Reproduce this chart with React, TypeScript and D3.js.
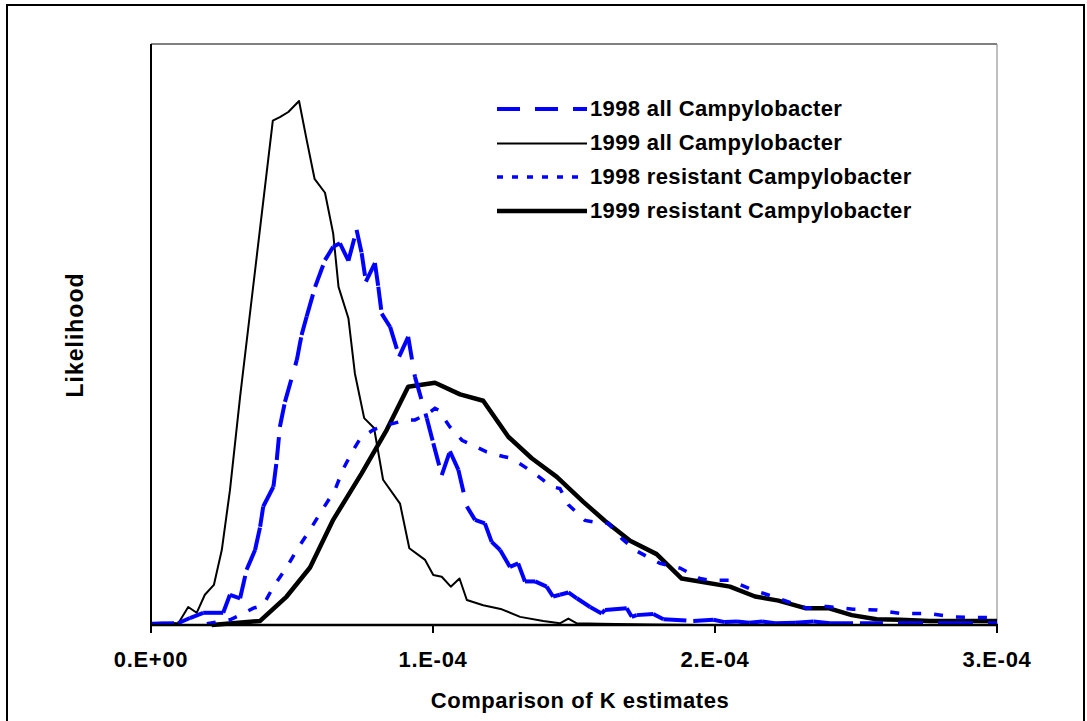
import React from "react";
import * as d3 from "d3";

// K estimates are stored in units of 1e-6; likelihood in relative units (axis max = 1)
const xTickValues = [0, 100, 200, 300];
const xTickLabels = ["0.E+00", "1.E-04", "2.E-04", "3.E-04"];
const xTitle = "Comparison of K estimates";
const yTitle = "Likelihood";
const seriesNames = [
  "1998 all Campylobacter",
  "1999 all Campylobacter",
  "1998 resistant Campylobacter",
  "1999 resistant Campylobacter",
];

const k1998All = [0, 9.6, 13.8, 18.5, 25.6, 28.0, 31.6, 33.9, 36.9, 38.7, 39.8, 43.4, 44.6, 45.7, 47.5, 51.7, 53.4, 55.2, 58.2, 61.7, 64.6, 67.0, 70.0, 72.9, 74.7, 76.2, 79.4, 80.6, 81.8, 84.8, 88.0, 91.2, 93.6, 97.8, 100.1, 103.1, 106.0, 109.0, 112.0, 114.9, 118.4, 120.8, 123.8, 127.3, 130.2, 132.6, 136.2, 140.3, 142.6, 145.0, 148.0, 151.0, 155.7, 159.8, 161.0, 168.7, 170.5, 172.2, 178.1, 181.7, 192.3, 199.4, 203.5, 207.8, 212.1, 216.7, 221.3, 228.4, 234.9, 240.8, 251.4, 265.6, 283.3, 300];
const lik1998All = [0.002, 0.003, 0.012, 0.021, 0.021, 0.052, 0.046, 0.095, 0.129, 0.169, 0.204, 0.238, 0.284, 0.341, 0.384, 0.456, 0.499, 0.531, 0.582, 0.628, 0.651, 0.657, 0.627, 0.68, 0.64, 0.591, 0.623, 0.582, 0.536, 0.513, 0.462, 0.496, 0.427, 0.356, 0.313, 0.258, 0.299, 0.267, 0.204, 0.181, 0.175, 0.143, 0.129, 0.1, 0.106, 0.075, 0.075, 0.066, 0.049, 0.052, 0.056, 0.046, 0.031, 0.02, 0.026, 0.029, 0.014, 0.017, 0.019, 0.01, 0.007, 0.009, 0.005, 0.006, 0.004, 0.006, 0.003, 0.004, 0.006, 0.003, 0.003, 0.003, 0.003, 0.003];

const k1999All = [0.1, 3.9, 9.7, 13.2, 16.2, 19.1, 22.3, 25.1, 28.0, 31.6, 43.2, 45.7, 48.7, 52.5, 55.2, 58.0, 61.7, 64.6, 66.5, 70.0, 72.3, 75.6, 79.1, 82.3, 88.3, 91.6, 97.2, 100.1, 103.1, 106.3, 109.4, 112.0, 117.8, 124.4, 130.9, 139.1, 145.0, 148.0, 151.0, 159.2, 177.0, 194.7, 300];
const lik1999All = [0.003, 0.004, 0.003, 0.031, 0.021, 0.052, 0.069, 0.129, 0.232, 0.393, 0.868, 0.874, 0.883, 0.902, 0.835, 0.768, 0.744, 0.674, 0.582, 0.528, 0.433, 0.356, 0.339, 0.25, 0.209, 0.132, 0.112, 0.086, 0.083, 0.066, 0.08, 0.043, 0.034, 0.027, 0.014, 0.007, 0.003, 0.011, 0.003, 0.002, 0.001, 0.0, 0.0];

const k1998Res = [19.8, 28.0, 31.6, 36.3, 39.8, 43.4, 48.1, 51.7, 56.4, 61.1, 65.2, 68.2, 71.7, 74.1, 78.8, 83.6, 90.7, 93.6, 98.3, 100.7, 101.9, 106.0, 110.3, 115.6, 119.0, 124.9, 127.9, 133.2, 136.8, 142.1, 145.0, 148.0, 153.9, 159.8, 162.2, 166.9, 171.6, 178.1, 180.5, 187.6, 194.7, 198.2, 205.3, 213.0, 222.4, 232.5, 239.6, 249.0, 257.3, 265.6, 275.1, 284.5, 292.8, 300];
const lik1998Res = [0.002, 0.009, 0.017, 0.029, 0.034, 0.066, 0.099, 0.129, 0.164, 0.201, 0.232, 0.269, 0.301, 0.32, 0.336, 0.344, 0.353, 0.353, 0.364, 0.373, 0.37, 0.341, 0.318, 0.306, 0.298, 0.29, 0.287, 0.27, 0.258, 0.238, 0.235, 0.207, 0.18, 0.175, 0.175, 0.149, 0.129, 0.112, 0.106, 0.098, 0.08, 0.077, 0.077, 0.061, 0.046, 0.029, 0.032, 0.027, 0.026, 0.02, 0.02, 0.014, 0.013, 0.013];

const k1999Res = [21.5, 38.7, 48.1, 56.4, 64.6, 74.7, 83.6, 91.2, 100.7, 109.6, 117.8, 126.7, 135.0, 143.9, 153.3, 161.0, 169.9, 179.3, 188.2, 205.3, 214.2, 222.5, 232.0, 240.2, 248.5, 257.3, 265.6, 276.2, 300];
const lik1999Res = [0.0, 0.007, 0.049, 0.099, 0.181, 0.261, 0.336, 0.41, 0.417, 0.397, 0.386, 0.324, 0.287, 0.255, 0.212, 0.179, 0.145, 0.122, 0.08, 0.066, 0.049, 0.042, 0.029, 0.029, 0.017, 0.01, 0.009, 0.007, 0.007];

const FONT = "'Liberation Sans', Arial, Helvetica, sans-serif";

type Pt = [number, number];
const zip = (a: number[], b: number[]): Pt[] => a.map((v, i) => [v, b[i]] as Pt);

export default function App() {
  const W = 1087;
  const H = 721;
  const x = d3.scaleLinear().domain([0, 300]).range([151, 997]);
  const y = d3.scaleLinear().domain([0, 1]).range([625, 44]);
  const line = d3
    .line<Pt>()
    .x((d) => x(d[0]))
    .y((d) => y(d[1]));

  const p98All = zip(k1998All, lik1998All);
  const p99All = zip(k1999All, lik1999All);
  const p98Res = zip(k1998Res, lik1998Res);
  const p99Res = zip(k1999Res, lik1999Res);

  const blue = "#0000ff";

  const legendRows = [
    { y: 109, stroke: blue, width: 4, dash: "23,15" },
    { y: 143.5, stroke: "#000", width: 2, dash: undefined },
    { y: 177, stroke: blue, width: 3.5, dash: "6,9" },
    { y: 211, stroke: "#000", width: 4.5, dash: undefined },
  ];

  return (
    <svg
      width={W}
      height={H}
      style={{ position: "absolute", left: 0, top: 0, background: "#fff" }}
      fontFamily={FONT}
    >
      <rect x={0} y={0} width={W} height={H} fill="#fff" />
      {/* outer chart frame */}
      <rect x={7} y={5} width={1077} height={740} fill="none" stroke="#000" strokeWidth={2} />

      {/* plot border top/right */}
      <line x1={151} x2={997} y1={44} y2={44} stroke="#808080" strokeWidth={2} />
      <line x1={997} x2={997} y1={44} y2={625} stroke="#808080" strokeWidth={1} />

      {/* series */}
      <g fill="none">
        <path d={line(p99Res) || ""} stroke="#000" strokeWidth={4.5} strokeLinejoin="round" />
        <path d={line(p99All) || ""} stroke="#000" strokeWidth={2} strokeLinejoin="round" />
        <path d={line(p98Res) || ""} stroke={blue} strokeWidth={3.5} strokeDasharray="9,13" />
        {d3.pairs(p98All).map(([a, b], i) => (
          <line
            key={i}
            x1={x(a[0])}
            y1={y(a[1])}
            x2={x(b[0])}
            y2={y(b[1])}
            stroke={blue}
            strokeWidth={4}
            strokeDasharray="23,15"
          />
        ))}
      </g>

      {/* axes */}
      <line x1={151} x2={151} y1={44} y2={626} stroke="#000" strokeWidth={2} />
      <line x1={150} x2={998} y1={625} y2={625} stroke="#000" strokeWidth={2.5} />
      {xTickValues.map((v, i) => (
        <g key={v}>
          <line x1={x(v)} x2={x(v)} y1={625} y2={633} stroke="#000" strokeWidth={2} />
          <text
            x={x(v)}
            y={667}
            textAnchor="middle"
            fontSize={22}
            letterSpacing={0.7}
            fontWeight="bold"
            fill="#000"
          >
            {xTickLabels[i]}
          </text>
        </g>
      ))}

      <text
        x={580}
        y={708}
        textAnchor="middle"
        fontSize={22}
        letterSpacing={0.55}
        fontWeight="bold"
        fill="#000"
      >
        {xTitle}
      </text>
      <text
        transform="translate(83,335) rotate(-90)"
        textAnchor="middle"
        fontSize={23}
        letterSpacing={1}
        fontWeight="bold"
        fill="#000"
      >
        {yTitle}
      </text>

      {/* legend */}
      {legendRows.map((r, i) => (
        <g key={i}>
          <line
            x1={497}
            x2={587}
            y1={r.y}
            y2={r.y}
            stroke={r.stroke}
            strokeWidth={r.width}
            strokeDasharray={r.dash}
          />
          <text
            x={590}
            y={r.y + 6.5}
            fontSize={22}
            letterSpacing={0.35}
            fontWeight="bold"
            fill="#000"
          >
            {seriesNames[i]}
          </text>
        </g>
      ))}
    </svg>
  );
}
